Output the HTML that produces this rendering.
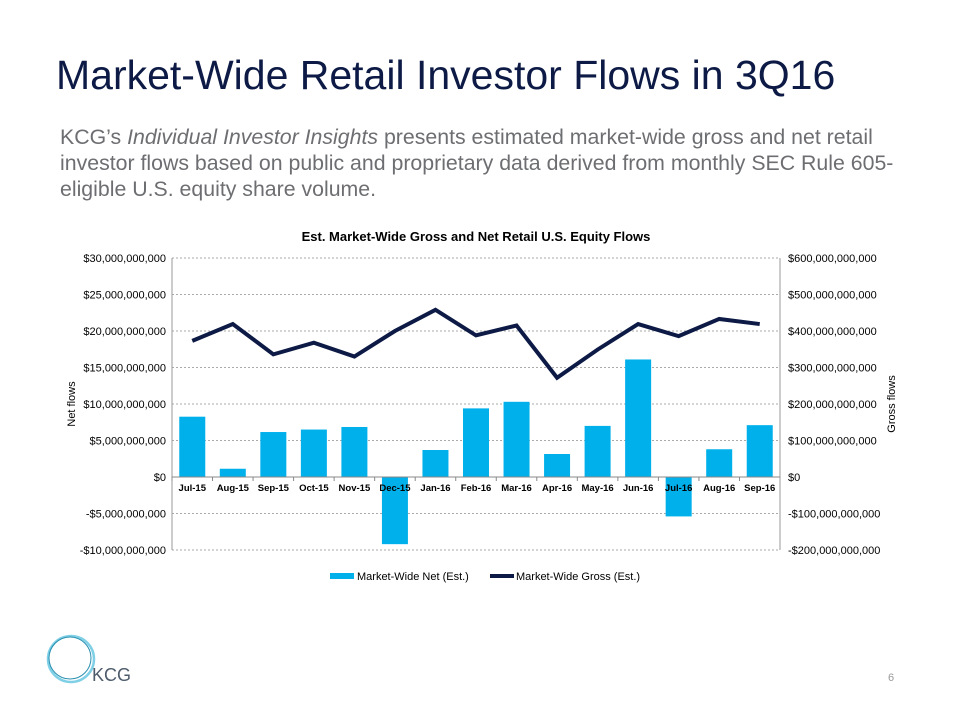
<!DOCTYPE html>
<html><head><meta charset="utf-8"><style>
body{margin:0;width:960px;height:720px;background:#fff;font-family:"Liberation Sans",sans-serif;position:relative;overflow:hidden}
h1{position:absolute;left:56px;top:52px;margin:0;font-size:41px;font-weight:normal;color:#0c1a45}
p{position:absolute;left:60px;top:124px;margin:0;font-size:21.3px;line-height:26px;color:#6d6e71;width:845px;hyphens:manual}
</style></head><body>
<h1>Market-Wide Retail Investor Flows in 3Q16</h1>
<p>KCG’s <i>Individual Investor Insights</i> presents estimated market-wide gross and net retail investor flows based on public and proprietary data derived from monthly SEC Rule 605-<br>eligible U.S. equity share volume.</p>
<svg id="chart" width="960" height="720" style="position:absolute;left:0;top:0" font-family="Liberation Sans, sans-serif"></svg>
<svg width="960" height="720" style="position:absolute;left:0;top:0;pointer-events:none">
<circle cx="71" cy="659" r="23" fill="none" stroke="#7fd0e6" stroke-width="2.5"/>
<circle cx="70" cy="658" r="21" fill="none" stroke="#2a8fb0" stroke-width="1"/>
<text x="92" y="681" font-family="Liberation Sans, sans-serif" font-size="18" fill="#4d5b6b">KCG</text>
<text x="888" y="681" font-family="Liberation Sans, sans-serif" font-size="11" fill="#999">6</text>
</svg>
<script>
const categories=["Jul-15","Aug-15","Sep-15","Oct-15","Nov-15","Dec-15","Jan-16","Feb-16","Mar-16","Apr-16","May-16","Jun-16","Jul-16","Aug-16","Sep-16"];
const netValues=[8.26,1.13,6.16,6.5,6.85,-9.2,3.7,9.4,10.3,3.15,7.0,16.1,-5.4,3.8,7.1];
const grossValues=[373,419,336,368,330,400,458,388,415,272,349,419,386,433,419];
const leftTicks=[30,25,20,15,10,5,0,-5,-10];
const leftLabels=["$30,000,000,000","$25,000,000,000","$20,000,000,000","$15,000,000,000","$10,000,000,000","$5,000,000,000","$0","-$5,000,000,000","-$10,000,000,000"];
const rightLabels=["$600,000,000,000","$500,000,000,000","$400,000,000,000","$300,000,000,000","$200,000,000,000","$100,000,000,000","$0","-$100,000,000,000","-$200,000,000,000"];
const svg=document.getElementById('chart');const NS="http://www.w3.org/2000/svg";
const X0=172,X1=780,Y0=258,Y1=550;
const yL=v=>Y0+(30-v)/40*(Y1-Y0);
const yR=v=>yL(v/20);
const cw=(X1-X0)/categories.length;
const xC=i=>X0+cw*(i+0.5);
function mk(t,a,txt){const e=document.createElementNS(NS,t);for(const k in a)e.setAttribute(k,a[k]);if(txt!=null)e.textContent=txt;svg.appendChild(e);return e;}
let e;
e=mk('text',{x:476,y:241,'text-anchor':'middle','font-size':13,'font-weight':'bold',fill:'#000'},'Est. Market-Wide Gross and Net Retail U.S. Equity Flows');

leftTicks.forEach((t,i)=>{const y=yL(t);
e=mk('line',{x1:X0,x2:X1,y1:y,y2:y,stroke:'#aaa','stroke-dasharray':'2,2','stroke-width':1});

e=mk('text',{x:166,y:y+4,'text-anchor':'end','font-size':11,fill:'#000'},leftLabels[i]);

e=mk('text',{x:788,y:y+4,'font-size':11,fill:'#000'},rightLabels[i]);

});
e=mk('line',{x1:X0,x2:X0,y1:Y0,y2:Y1,stroke:'#999'});
e=mk('line',{x1:X1,x2:X1,y1:Y0,y2:Y1,stroke:'#999'});
netValues.forEach((v,i)=>{const y=Math.min(yL(v),yL(0));const h=Math.abs(yL(v)-yL(0));
e=mk('rect',{x:xC(i)-13,y:y,width:26,height:h,fill:'#00b0eb'});
});
e=mk('line',{x1:X0,x2:X1,y1:yL(0),y2:yL(0),stroke:'#888'});
categories.forEach((c,i)=>{
e=mk('line',{x1:X0+cw*i,x2:X0+cw*i,y1:yL(0),y2:yL(0)+4,stroke:'#888'});
e=mk('text',{x:xC(i),y:yL(0)+14,'text-anchor':'middle','font-size':9.5,'font-weight':'bold',fill:'#000'},c);
});
e=mk('polyline',{points:grossValues.map((v,i)=>xC(i)+','+yR(v)).join(' '),fill:'none',stroke:'#0c1a45','stroke-width':4,'stroke-linejoin':'miter'});

e=mk('text',{x:0,y:0,transform:'translate(75,404) rotate(-90)','text-anchor':'middle','font-size':11,fill:'#000'},'Net flows');

e=mk('text',{x:0,y:0,transform:'translate(895,404) rotate(-90)','text-anchor':'middle','font-size':11,fill:'#000'},'Gross flows');

e=mk('rect',{x:330,y:573,width:24,height:6,fill:'#00b0eb'});
e=mk('text',{x:357,y:580,'font-size':11,fill:'#000'},'Market-Wide Net (Est.)');
e=mk('line',{x1:490,x2:514,y1:576,y2:576,stroke:'#0c1a45','stroke-width':4});
e=mk('text',{x:516,y:580,'font-size':11,fill:'#000'},'Market-Wide Gross (Est.)');
</script>
</body></html>
